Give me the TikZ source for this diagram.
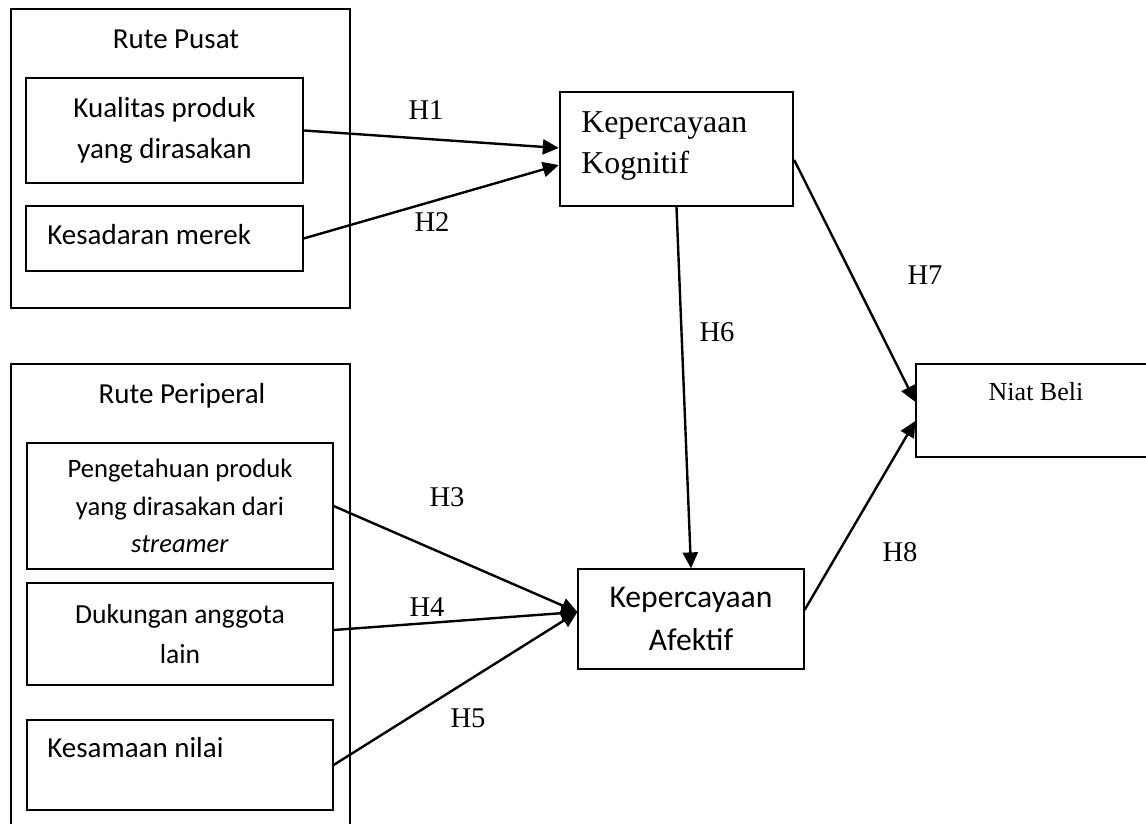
\documentclass[tikz,border=0pt]{standalone}
\usepackage{fontspec}
\setmainfont{Liberation Serif}
\newfontfamily\calibri{Carlito}
\usetikzlibrary{arrows.meta,positioning}

\tikzset{
  outerbox/.style={draw, line width=1.3pt, inner sep=0pt},
  thickbox/.style={draw, line width=1.2pt, align=center, inner sep=0pt},
  thinbox/.style={draw, line width=0.6pt, align=center, inner sep=0pt},
  sans/.style={font=\calibri\fontsize{14.5}{20.8}\selectfont},
  hyp/.style={inner sep=0pt, font=\fontsize{14.3}{17}\selectfont},
  arr/.style={-{Triangle[length=8pt,width=7.5pt]}, line width=1.2pt},
}

\begin{document}
\begin{tikzpicture}[x=0.5pt, y=-0.5pt]
\useasboundingbox (0,0) rectangle (1146,824);

% central route
\node[outerbox, minimum width=169.5pt, minimum height=149.5pt] (pusat) at (180.5,158.5) {};
\node[sans, inner sep=0pt] (pusatTitle) at (176,39) {Rute Pusat};
\node[thickbox, sans, minimum width=138.5pt, minimum height=52.5pt] (kualitas) at (164.5,130.5) {Kualitas produk\\yang dirasakan};
\node[thinbox, minimum width=138.5pt, minimum height=32.5pt] (kesadaran) at (164.5,238.5) {};
\node[sans, anchor=west, inner sep=0pt] (kesadaranText) at (47,235) {Kesadaran merek};

% peripheral route
\node[outerbox, minimum width=169.5pt, minimum height=233pt] (periperal) at (180.5,597) {};
\node[sans, inner sep=0pt] (periperalTitle) at (182,396) {Rute Periperal};
\node[thinbox, font=\calibri\fontsize{13.3}{18.8}\selectfont, minimum width=153pt, minimum height=63pt] (pengetahuan) at (180,506) {Pengetahuan produk\\yang dirasakan dari\\\textit{streamer}};
\node[thinbox, font=\calibri\fontsize{13.8}{20}\selectfont, minimum width=153pt, minimum height=51pt] (dukungan) at (180,634) {Dukungan anggota\\lain};
\node[thinbox, minimum width=153pt, minimum height=45pt] (kesamaan) at (180,765) {};
\node[sans, anchor=west, inner sep=0pt] (kesamaanText) at (47,748) {Kesamaan nilai};

% trust and intention
\node[thickbox, minimum width=116.5pt, minimum height=57pt] (kognitif) at (676.5,149) {};
\node[anchor=north west, inner sep=0pt, align=left, font=\fontsize{15.9}{20.5}\selectfont] (kognitifText) at (581,111) {Kepercayaan\\Kognitif};
\node[thinbox, font=\calibri\fontsize{15.8}{21.5}\selectfont, minimum width=113pt, minimum height=50pt] (afektif) at (691,619) {Kepercayaan\\Afektif};
\node[thinbox, minimum width=117pt, minimum height=46.5pt] (niat) at (1033,410.5) {};
\node[anchor=north, inner sep=0pt, font=\fontsize{13}{15}\selectfont] (niatText) at (1036,382) {Niat Beli};

% paths
\draw[arr] (kualitas.east) -- ([yshift=0.5pt]kognitif.west);
\draw[arr] (kesadaran.east) -- ([yshift=-8pt]kognitif.west);
\draw[arr] (pengetahuan.east) -- ([yshift=3.5pt]afektif.west);
\draw[arr] ([yshift=2pt]dukungan.east) -- ([yshift=3.5pt]afektif.west);
\draw[arr] (kesamaan.east) -- ([yshift=3.5pt]afektif.west);
\draw[arr] (kognitif.south) -- (afektif.north);
\draw[arr] ([yshift=-5.5pt]kognitif.east) -- ([yshift=4.25pt]niat.west);
\draw[arr] ([yshift=4.5pt]afektif.east) -- ([yshift=-5.25pt]niat.west);

% hypothesis labels
\node[hyp] (h1) at (426,110) {H1};
\node[hyp] (h2) at (432,222) {H2};
\node[hyp] (h3) at (447,497) {H3};
\node[hyp] (h4) at (427,607) {H4};
\node[hyp] (h5) at (468,718) {H5};
\node[hyp] (h6) at (717,332) {H6};
\node[hyp] (h7) at (925,275) {H7};
\node[hyp] (h8) at (900,552) {H8};
\end{tikzpicture}
\end{document}
